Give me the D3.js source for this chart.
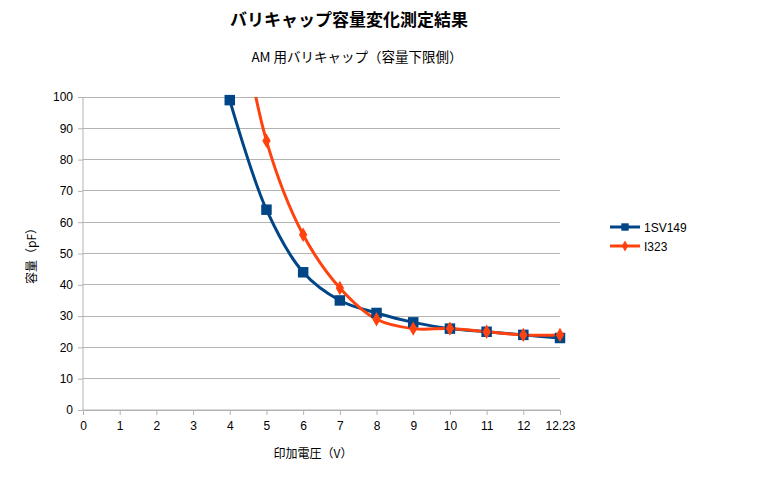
<!DOCTYPE html>
<html><head><meta charset="utf-8">
<script src="https://cdn.jsdelivr.net/npm/d3@7"></script>
<style>body{margin:0;background:#fff;} text{font-family:"Liberation Sans","DejaVu Sans",sans-serif;}</style>
</head><body>
<svg id="c" width="768" height="480"></svg>
<script>
const categories = ["0","1","2","3","4","5","6","7","8","9","10","11","12","12.23"];
const seriesNames = ["1SV149","I323"];
const s1SV149 = [null,null,null,null,99,64,44,35,31,28,26,25,24,23];
const sI323 = [null,null,null,null,145,86,56,39,29,26,26,25,24,24];
const yTicks = [0,10,20,30,40,50,60,70,80,90,100];
const colors = ["#004586","#ff420e"];

const svg = d3.select("#c");
const jp = '"Noto Sans CJK JP","Liberation Sans",sans-serif';
const L = 83, R = 560, T = 97, B = 410;
const x = d3.scalePoint().domain(categories).range([L, R]);
const y = d3.scaleLinear().domain([0,100]).range([B, T]);

svg.append("text").attr("x",349).attr("y",26).attr("text-anchor","middle")
  .style("font-family",jp).style("font-size","17px").style("font-weight","bold").text("バリキャップ容量変化測定結果");
svg.append("text").attr("x",357).attr("y",62).attr("text-anchor","middle")
  .style("font-family",jp).style("font-size","13.5px").text("AM 用バリキャップ（容量下限側）");

// grid
svg.append("g").selectAll("line").data(yTicks).join("line")
  .attr("x1",L).attr("x2",R).attr("y1",d=>y(d)).attr("y2",d=>y(d))
  .attr("stroke","#b3b3b3").attr("stroke-width",1).attr("shape-rendering","crispEdges");

const ya = svg.append("g").attr("transform",`translate(${L},0)`).call(d3.axisLeft(y).tickValues(yTicks).tickSize(5).tickPadding(5));
ya.select(".domain").attr("stroke","#b3b3b3").attr("d",`M-0,${B}V${T}`);
ya.selectAll(".tick line").attr("stroke","#b3b3b3");
ya.selectAll("text").style("font-size","12px").attr("fill","#000");

const xa = svg.append("g").attr("transform",`translate(0,${B})`).call(d3.axisBottom(x).tickSize(5).tickPadding(6));
xa.select(".domain").attr("stroke","#b3b3b3").attr("d",`M${L},0H${R}`);
xa.selectAll(".tick line").attr("stroke","#b3b3b3");
xa.selectAll("text").style("font-size","12px").attr("fill","#000");

svg.append("text").attr("x",313).attr("y",458).attr("text-anchor","middle")
  .style("font-family",jp).style("font-size","12px").text("印加電圧（V）");
svg.append("text").attr("transform","translate(36,253) rotate(-90)").attr("text-anchor","middle")
  .style("font-family",jp).style("font-size","12px").text("容量（pF）");

svg.append("defs").append("clipPath").attr("id","clip").append("rect")
  .attr("x",L-10).attr("y",T).attr("width",R-L+20).attr("height",B-T+10);

const series = [s1SV149, sI323];
const g = svg.append("g").attr("clip-path","url(#clip)");
series.forEach((vals,i)=>{
  const pts = categories.map((c,j)=>({c,v:vals[j]})).filter(d=>d.v!=null);
  const line = d3.line().x(d=>x(d.c)).y(d=>y(d.v)).curve(d3.curveCatmullRom.alpha(0.5));
  g.append("path").datum(pts).attr("d",line).attr("fill","none").attr("stroke",colors[i]).attr("stroke-width",3);
});
const mg = svg.append("g");
const sym = [d3.symbolSquare, d3.symbolDiamond];
const sz = [110, 60];
series.forEach((vals,i)=>{
  const pts = categories.map((c,j)=>({c,v:vals[j]})).filter(d=>d.v!=null && d.v<=100);
  mg.selectAll(null).data(pts).join("path")
    .attr("transform",d=>`translate(${x(d.c)},${y(d.v)})`)
    .attr("d",d3.symbol(sym[i],sz[i])).attr("fill",colors[i]);
});

// legend
const lg = svg.append("g");
seriesNames.forEach((n,i)=>{
  const yy = 227 + i*19;
  lg.append("line").attr("x1",610).attr("x2",640).attr("y1",yy).attr("y2",yy).attr("stroke",colors[i]).attr("stroke-width",3);
  lg.append("path").attr("transform",`translate(625,${yy})`).attr("d",d3.symbol(sym[i], i==0?55:35)).attr("fill",colors[i]);
  lg.append("text").attr("x",644).attr("y",yy+4.5).style("font-size","12px").text(n);
});
</script>
</body></html>
